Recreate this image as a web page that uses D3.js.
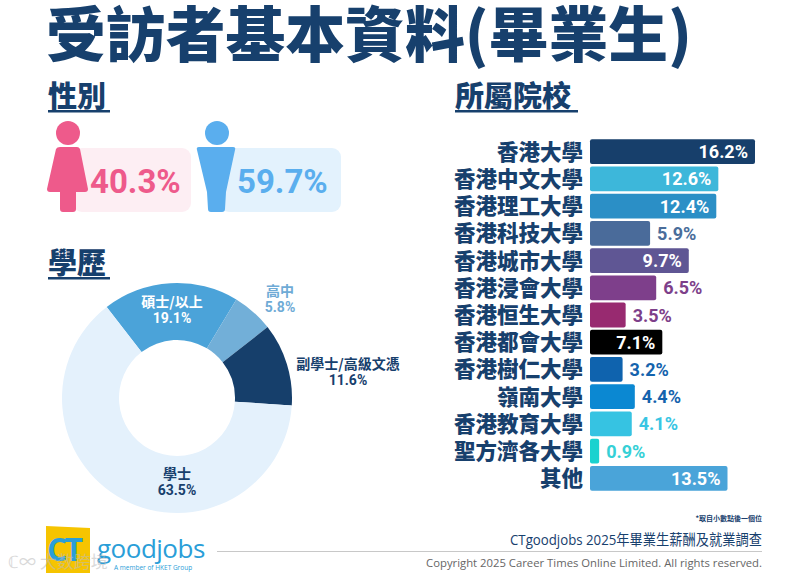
<!DOCTYPE html>
<html><head><meta charset="utf-8">
<script src="https://cdn.jsdelivr.net/npm/d3@7"></script>
<style>
html,body{margin:0;padding:0;background:#fff;}
svg{display:block;}
</style></head>
<body>
<svg id="chart" width="801" height="576"></svg>
<script>
// ---- data ----
const genderLabels = ["女", "男"];
const genderValues = [40.3, 59.7];
const eduLabels = ["碩士/以上", "高中", "副學士/高級文憑", "學士"];
const eduValues = [19.1, 5.8, 11.6, 63.5];
const schools = ["香港大學","香港中文大學","香港理工大學","香港科技大學","香港城市大學","香港浸會大學","香港恒生大學","香港都會大學","香港樹仁大學","嶺南大學","香港教育大學","聖方濟各大學","其他"];
const schoolValues = [16.2, 12.6, 12.4, 5.9, 9.7, 6.5, 3.5, 7.1, 3.2, 4.4, 4.1, 0.9, 13.5];

// ---- styles ----
const NAVY = "#17406d";
const CJK = "'Noto Sans CJK TC','Noto Sans CJK SC',sans-serif";
const NUM = "Roboto,'Liberation Sans',Arial,sans-serif";
const barColors = ["#173f6b","#3db7da","#2b8fc6","#4a6b9a","#5f5694","#7e3f8b","#982a70","#000000","#0f63ae","#0b88d2","#36c3e2","#1ad2cf","#4aa4d9"];
const outLabelColors = {3:"#4a6d9a",5:"#7d3f8a",6:"#7d3f8a",8:"#1463ad",9:"#1463ad",10:"#39c5e3",11:"#36d0d6"};
const eduColors = ["#4ba3d9","#72afd8","#163f6b","#e4f1fc"];

const svg = d3.select("#chart");

// ---- title ----
svg.append("text").attr("x", 46).attr("y", 57)
  .attr("font-family", CJK).attr("font-weight", 900).attr("font-size", 60)
  .attr("fill", NAVY).attr("textLength", 646).attr("lengthAdjust","spacingAndGlyphs")
  .text("受訪者基本資料(畢業生)");

// section headers
function header(x, y, t, w) {
  svg.append("text").attr("x", x).attr("y", y)
    .attr("font-family", CJK).attr("font-weight", 900).attr("font-size", 29)
    .attr("fill", NAVY).text(t);
  svg.append("rect").attr("x", x).attr("y", y + 3).attr("width", w).attr("height", 2.5).attr("fill", NAVY);
}
header(48, 107, "性別", 62);
header(48, 274, "學歷", 62);
header(455, 107, "所屬院校", 123);

// ---- gender ----
const gCol = [{fg:"#ee5a8b", bg:"#fdeef3"}, {fg:"#5aaeee", bg:"#e3f2fd"}];
const gx = [0, 149];
genderValues.forEach((v,i)=>{
  const ox = gx[i];
  svg.append("rect").attr("x", 73 + ox + (i?-2:0)).attr("y", 148).attr("width", 118 + (i?3:0)).attr("height", 64).attr("rx", 9)
    .attr("fill", gCol[i].bg);
});
// female icon
svg.append("circle").attr("cx", 68).attr("cy", 133).attr("r", 12).attr("fill", gCol[0].fg);
svg.append("path").attr("d","M60,147 L77,147 Q79,147 80,149 L88,189 Q88,192 85,192 L76,192 L76,209 Q76,212 73,212 L63,212 Q60,212 60,209 L60,192 L50,192 Q47,192 47,189 L56,149 Q57,147 60,147 Z")
  .attr("fill", gCol[0].fg);
// male icon
svg.append("circle").attr("cx", 217).attr("cy", 133).attr("r", 12).attr("fill", gCol[1].fg);
svg.append("path").attr("d","M199,147 L233,147 Q236,147 235,150 L226,192 L225,209 Q225,212 222,212 L211,212 Q208,212 208,209 L207,192 L197,150 Q196,147 199,147 Z")
  .attr("fill", gCol[1].fg);
// percentages
const gTextX = [90, 237];
genderValues.forEach((v,i)=>{
  svg.append("text").attr("x", gTextX[i]).attr("y", 193)
    .attr("font-family", NUM).attr("font-weight", 700).attr("font-size", 33)
    .attr("fill", gCol[i].fg).text(v.toFixed(1) + "%");
});

// ---- education donut ----
const cx = 177, cy = 398, rO = 115, rI = 58;
const a0 = -37.7 * Math.PI / 180;
const pie = d3.pie().sort(null).startAngle(a0).endAngle(a0 + 2*Math.PI);
const arcs = pie(eduValues);
const arc = d3.arc().innerRadius(rI).outerRadius(rO);
const dg = svg.append("g").attr("transform", `translate(${cx},${cy})`);
dg.selectAll("path").data(arcs).enter().append("path")
  .attr("d", arc).attr("fill", (d,i)=>eduColors[i]);

const eduLabelPos = [
  {x:172, y:307, c:"#ffffff"},
  {x:280, y:296, c:"#6fabd6"},
  {x:348, y:369, c:NAVY},
  {x:177, y:479, c:NAVY}
];
eduLabels.forEach((t,i)=>{
  const p = eduLabelPos[i];
  const tx = svg.append("text").attr("text-anchor","middle").attr("fill", p.c)
    .attr("font-weight", 700).attr("font-size", 14);
  tx.append("tspan").attr("x", p.x).attr("y", p.y).attr("font-family", CJK).text(t);
  tx.append("tspan").attr("x", p.x).attr("y", p.y + 16).attr("font-family", NUM).text(eduValues[i].toFixed(1) + "%");
});

// ---- schools bar chart ----
const x = d3.scaleLinear().domain([0, 16.2]).range([590, 755]);
const y = d3.scaleBand().domain(schools).range([138, 492]).paddingInner(0.09).paddingOuter(0.045);
const bg = svg.append("g");
schools.forEach((s,i)=>{
  const v = schoolValues[i];
  bg.append("rect").attr("x", x(0)).attr("y", y(s)).attr("width", x(v) - x(0)).attr("height", y.bandwidth())
    .attr("rx", 2).attr("fill", barColors[i]);
  bg.append("text").attr("x", 583).attr("y", y(s) + y.bandwidth()/2 + 8)
    .attr("text-anchor","end").attr("font-family", CJK).attr("font-weight", 900).attr("font-size", 21.5)
    .attr("fill", NAVY).text(s);
  const inside = outLabelColors[i] === undefined;
  bg.append("text")
    .attr("x", inside ? x(v) - 7 : x(v) + 7)
    .attr("y", y(s) + y.bandwidth()/2 + 6.5)
    .attr("text-anchor", inside ? "end" : "start")
    .attr("font-family", NUM).attr("font-weight", 700).attr("font-size", 18)
    .attr("fill", inside ? "#ffffff" : outLabelColors[i]).text(v.toFixed(1) + "%");
});

// ---- footer ----
svg.append("text").attr("x", 762).attr("y", 521).attr("text-anchor","end")
  .attr("font-family", CJK).attr("font-weight", 700).attr("font-size", 7).attr("fill", NAVY)
  .text("*取自小數點後一個位");
svg.append("text").attr("x", 762).attr("y", 545).attr("text-anchor","end")
  .attr("font-family", "'Open Sans','Noto Sans CJK TC',sans-serif").attr("font-size", 15).attr("fill", NAVY)
  .attr("textLength", 252).attr("lengthAdjust", "spacingAndGlyphs")
  .text("CTgoodjobs 2025年畢業生薪酬及就業調查");
svg.append("line").attr("x1", 217).attr("x2", 762).attr("y1", 551.5).attr("y2", 551.5)
  .attr("stroke", "#c8c8c8").attr("stroke-width", 1.2);
svg.append("text").attr("x", 762).attr("y", 567).attr("text-anchor","end")
  .attr("font-family", "'Open Sans',sans-serif").attr("font-size", 11.3).attr("fill", "#666")
  .text("Copyright 2025 Career Times Online Limited. All rights reserved.");

// logo
svg.append("path").attr("d","M46,526 L90,528 L90,573 L46,573 Z").attr("fill", "#f6c400");
svg.append("text").attr("x", 47).attr("y", 561).attr("font-family", "'Open Sans',sans-serif").attr("font-weight", 700)
  .attr("font-size", 32).attr("fill", "#2a9ed8").attr("letter-spacing", -3).text("CT");
svg.append("text").attr("x", 97).attr("y", 558).attr("font-family", "'Open Sans',sans-serif")
  .attr("font-size", 26).attr("fill", "#2a9ed8").attr("letter-spacing", -0.5).text("goodjobs");
svg.append("text").attr("x", 114).attr("y", 570).attr("font-family", "'Open Sans',sans-serif")
  .attr("font-size", 6.5).attr("fill", "#2a9ed8").text("A member of HKET Group");
// faint watermark
svg.append("text").attr("x", 8).attr("y", 568).attr("font-family", CJK).attr("font-size", 17)
  .attr("fill", "#bbbbbb").attr("opacity", 0.55).text("ℂ∞ 大数跨境");
</script>
</body></html>
